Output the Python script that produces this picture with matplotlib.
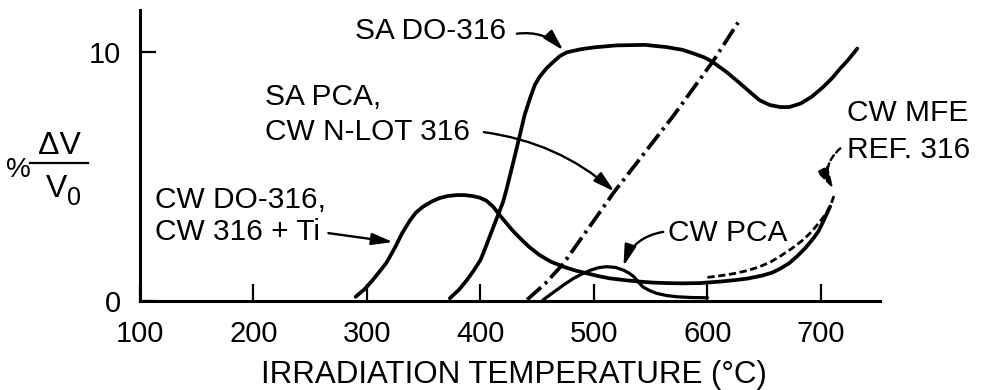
import matplotlib
matplotlib.use('Agg')
import matplotlib.pyplot as plt
from matplotlib.lines import Line2D

plt.rcParams['font.family'] = ['Liberation Sans', 'DejaVu Sans']

# Curves (temperature in C, swelling in %)
cw_do316_temp = [290, 298, 305, 311, 317, 321, 325, 331, 338, 343, 349, 357, 364, 371, 379, 386, 393,
                 399, 405, 411, 417, 423, 428, 435, 443, 452, 462, 473, 484, 494, 504, 514, 527,
                 540, 552, 564, 578, 593, 611, 624, 635, 648, 657, 664, 672, 679, 686, 693, 698, 702, 708]
cw_do316_swell = [0.17, 0.48, 0.84, 1.18, 1.53, 1.85, 2.18, 2.73, 3.25, 3.55, 3.78, 4.0, 4.14, 4.22, 4.26,
                  4.26, 4.22, 4.16, 4.04, 3.8, 3.45, 3.12, 2.85, 2.52, 2.17, 1.85, 1.58, 1.38, 1.22,
                  1.11, 1.0, 0.91, 0.84, 0.78, 0.74, 0.72, 0.71, 0.72, 0.78, 0.84, 0.9, 1.02, 1.14, 1.3,
                  1.52, 1.8, 2.12, 2.5, 2.82, 3.2, 3.8]

sa_do316_temp = [373, 381, 388, 394, 400, 404, 408, 412, 416, 420, 423, 429, 435, 439, 444, 448, 452,
                 458, 464, 470, 476, 488, 500, 520, 545, 564, 578, 588, 597, 604, 617, 629, 638, 646,
                 655, 664, 672, 682, 692, 702, 710, 716, 724, 732]
sa_do316_swell = [0.11, 0.45, 0.84, 1.22, 1.65, 2.1, 2.58, 3.05, 3.52, 4.0, 4.5, 5.6, 6.73, 7.5, 8.2, 8.7,
                  9.01, 9.35, 9.61, 9.85, 10.0, 10.12, 10.2, 10.28, 10.3, 10.21, 10.1, 9.95, 9.8, 9.63,
                  9.2, 8.74, 8.38, 8.07, 7.88, 7.8, 7.8, 7.94, 8.22, 8.61, 8.97, 9.3, 9.7, 10.15]

sa_pca_temp = [441, 457, 473, 518, 570, 605, 627]
sa_pca_swell = [0.05, 0.7, 1.5, 4.4, 7.45, 9.65, 11.2]

cw_pca_temp = [455, 461, 467, 474, 482, 490, 497, 504, 511, 519, 526, 531, 535, 539, 543, 549, 555,
               564, 573, 586, 600]
cw_pca_swell = [0.04, 0.24, 0.44, 0.67, 0.91, 1.1, 1.24, 1.34, 1.38, 1.35, 1.24, 1.12, 0.98, 0.77, 0.57,
                0.42, 0.31, 0.22, 0.17, 0.14, 0.13]

cw_mfe_temp = [600, 612, 623, 635, 646, 656, 664, 674, 684, 692, 699, 704, 708, 712]
cw_mfe_swell = [0.95, 1.02, 1.1, 1.22, 1.38, 1.58, 1.8, 2.1, 2.45, 2.8, 3.19, 3.48, 3.79, 4.3]

x_ticks = [100, 200, 300, 400, 500, 600, 700]
y_ticks = [0, 10]

fig = plt.figure(figsize=(9.9, 3.9), dpi=100)
ax = fig.add_axes([0.1414, 0.2282, 0.7475, 0.746])

lw = 2.7
ax.plot(cw_do316_temp, cw_do316_swell, color='black', lw=lw, solid_capstyle='round', clip_on=False)
ax.plot(sa_do316_temp, sa_do316_swell, color='black', lw=lw, solid_capstyle='round', clip_on=False)
ax.plot(cw_pca_temp, cw_pca_swell, color='black', lw=lw * 0.85, solid_capstyle='round', clip_on=False)
ax.plot(sa_pca_temp, sa_pca_swell, color='black', lw=lw, linestyle=(0, (5, 1.4, 0.8, 1.4)), clip_on=False)
ax.plot(cw_mfe_temp, cw_mfe_swell, color='black', lw=2.0, linestyle=(0, (2.6, 1.3)), clip_on=False)

ax.set_xlim(100, 752)
ax.set_ylim(0, 11.7)
ax.spines['top'].set_visible(False)
ax.spines['right'].set_visible(False)
ax.spines['left'].set_linewidth(2.2)
ax.spines['bottom'].set_linewidth(2.2)
ax.set_xticks(x_ticks)
ax.set_yticks(y_ticks)
ax.tick_params(axis='x', direction='in', length=12, width=1.6, pad=13.5, labelsize=21)
ax.tick_params(axis='y', direction='in', length=11.5, width=1.6, pad=14, labelsize=21)

fig.text(514 / 990, 1 - 383 / 390, 'IRRADIATION TEMPERATURE (°C)', ha='center', va='baseline', fontsize=22.5)

# y label:  % dV / V0
fig.text(18 / 990, 1 - 170 / 390, '%', ha='center', va='center', fontsize=20)
fig.text(59 / 990, 1 - 146 / 390, 'ΔV', ha='center', va='center', fontsize=23)
fig.add_artist(Line2D([30 / 990, 88 / 990], [1 - 163 / 390, 1 - 163 / 390], color='black', lw=1.6))
fig.text(57 / 990, 1 - 189 / 390, 'V', ha='center', va='center', fontsize=23)
fig.text(74 / 990, 1 - 198 / 390, '0', ha='center', va='center', fontsize=18)

fs = 21.5
arrow = dict(arrowstyle='-|>,head_length=0.8,head_width=0.22', color='black', lw=1.7,
             mutation_scale=16, shrinkA=0, shrinkB=0)

ax.text(289, 10.84, 'SA DO-316', fontsize=fs, va='center', ha='left')
ax.annotate('', xy=(473, 10.08), xytext=(432, 10.75),
            arrowprops=dict(arrow, connectionstyle='arc3,rad=-0.25'))

ax.text(210, 8.19, 'SA PCA,', fontsize=fs, va='center', ha='left')
ax.text(210, 6.79, 'CW N-LOT 316', fontsize=fs, va='center', ha='left')
ax.annotate('', xy=(518, 4.4), xytext=(403, 6.79),
            arrowprops=dict(arrow, connectionstyle='arc3,rad=-0.15'))

ax.text(113, 4.06, 'CW DO-316,', fontsize=fs, va='center', ha='left')
ax.text(113, 2.77, 'CW 316 + Ti', fontsize=fs, va='center', ha='left')
ax.annotate('', xy=(323, 2.37), xytext=(266, 2.73),
            arrowprops=dict(arrow, connectionstyle='arc3,rad=0'))

ax.text(565, 2.73, 'CW PCA', fontsize=fs, va='center', ha='left')
ax.annotate('', xy=(526, 1.4), xytext=(561, 2.78),
            arrowprops=dict(arrow, connectionstyle='arc3,rad=0.3'))

ax.text(723, 7.55, 'CW MFE', fontsize=fs, va='center', ha='left', clip_on=False)
ax.text(723, 6.06, 'REF. 316', fontsize=fs, va='center', ha='left', clip_on=False)
ax.annotate('', xy=(711, 4.5), xytext=(717, 6.14),
            arrowprops=dict(arrow, linestyle=(0, (2.5, 1.5)), connectionstyle='arc3,rad=0.4'))

fig.savefig('out.png', dpi=100)
